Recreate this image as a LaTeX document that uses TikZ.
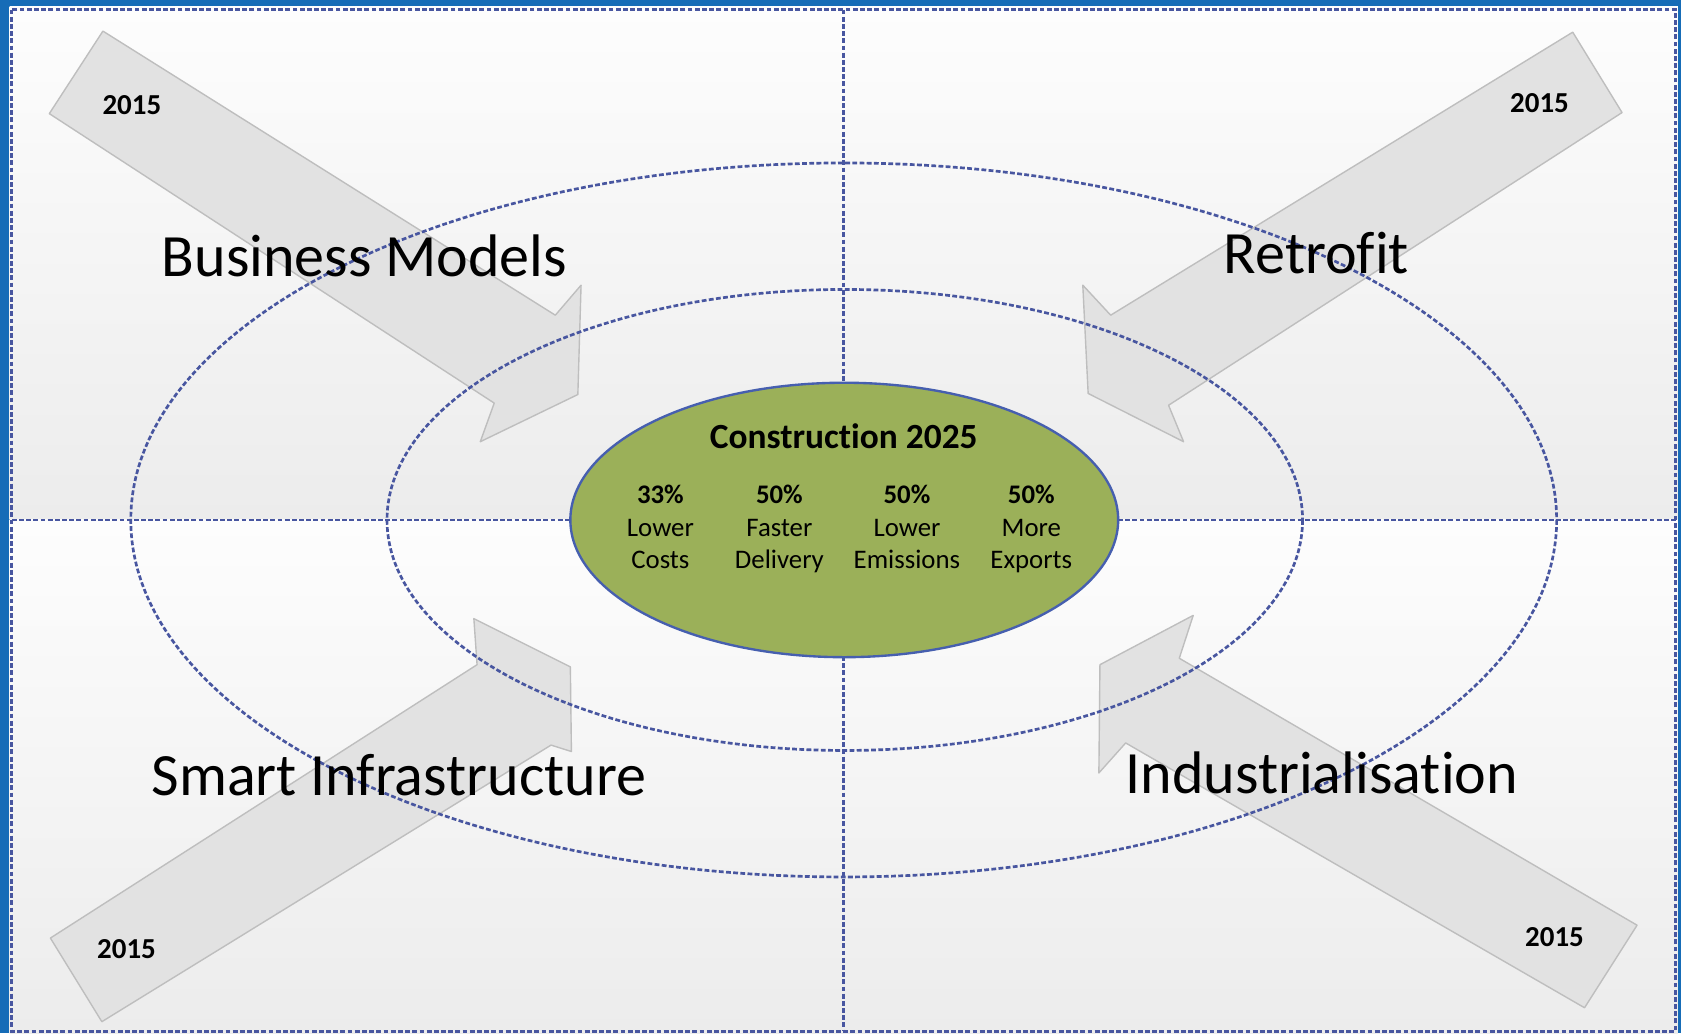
\documentclass[tikz,border=0pt]{standalone}
\usepackage{fontspec}
\setmainfont{Carlito}[Ligatures=NoCommon]
\usetikzlibrary{shapes.geometric}
\definecolor{frameblue}{RGB}{22,108,183}
\definecolor{dashblue}{RGB}{72,86,160}
\definecolor{arrowfill}{RGB}{226,226,226}
\definecolor{arrowline}{RGB}{190,190,190}
\definecolor{coregreen}{RGB}{155,176,89}
\definecolor{coreline}{RGB}{70,95,175}
\definecolor{bgtop}{RGB}{253,253,253}
\definecolor{bgbot}{RGB}{236,236,236}
\begin{document}
\begin{tikzpicture}[x=1pt,y=-1pt,
  dline/.style={draw=dashblue, line width=2.5pt, dash pattern=on 4.5pt off 2.2pt},
  bigarrow/.style={fill=arrowfill, draw=arrowline, line width=1.3pt, line join=round},
  biglabel/.style={font=\fontsize{56}{60}\selectfont, text=black, inner sep=0pt, anchor=base},
  yearlabel/.style={font=\fontsize{27}{30}\selectfont\bfseries, inner sep=0pt, anchor=base},
  stat/.style={font=\fontsize{25}{30}\selectfont, align=center, inner sep=0pt}]
\useasboundingbox (0,0) rectangle (1568,964);
% frame and background
\fill[frameblue] (0,0) rectangle (1568,964);
\shade[top color=bgtop, bottom color=bgbot] (9,6) rectangle (1565,485);
\shade[top color=bgtop, bottom color=bgbot] (9,485) rectangle (1565,964);
% dashed border and cross
\draw[dline] (11,9) rectangle (1563,962);
\draw[dline] (787,9) -- (787,962);
\draw[dline] (11,485) -- (1563,485);
% arrows
\path[bigarrow] (96,29) -- (518,294) -- (542,266) -- (539,368) -- (448,412) -- (461,376) -- (46,106) -- cycle;
\path[bigarrow] (1467,30) -- (1513,105) -- (1090,378) -- (1104,412) -- (1015,367) -- (1010,266) -- (1036,294) -- cycle;
\path[bigarrow] (47,875) -- (445,620) -- (442,577) -- (532,622) -- (533,701) -- (514,695) -- (95,953) -- cycle;
\path[bigarrow] (1113,574) -- (1100,614) -- (1527,863) -- (1478,940) -- (1050,693) -- (1025,721) -- (1026,620) -- cycle;
% dashed ellipses
\draw[dline] (787,485) ellipse [x radius=665, y radius=333];
\draw[dline] (788,485) ellipse [x radius=427, y radius=215];
% core
\node[ellipse, draw=coreline, line width=2.2pt, fill=coregreen, minimum width=511pt, minimum height=256pt, inner sep=0pt] (core) at (787.5,485) {};
\node[font=\fontsize{33}{36}\selectfont\bfseries, inner sep=0pt, anchor=base] (title) at (787,418) {Construction 2025};
\node[stat] (s1) at (616,494) {\strut\textbf{33\%}\\Lower\\Costs\strut};
\node[stat] (s2) at (727,494) {\strut\textbf{50\%}\\Faster\\Delivery\strut};
\node[stat] (s3) at (846,494) {\strut\textbf{50\%}\\Lower\\Emissions\strut};
\node[stat] (s4) at (962,494) {\strut\textbf{50\%}\\More\\Exports\strut};
% years
\node[yearlabel] (y1) at (123,107) {2015};
\node[yearlabel] (y2) at (1436,105) {2015};
\node[yearlabel] (y3) at (118,894) {2015};
\node[yearlabel] (y4) at (1450,883) {2015};
% big labels
\node[biglabel] (bm) at (340,258) {Business Models};
\node[biglabel] (rf) at (1228,255) {Retrofit};
\node[biglabel] (si) at (372,742) {Smart Infrastructure};
\node[biglabel] (in) at (1233,740) {Industrialisation};
\end{tikzpicture}
\end{document}
